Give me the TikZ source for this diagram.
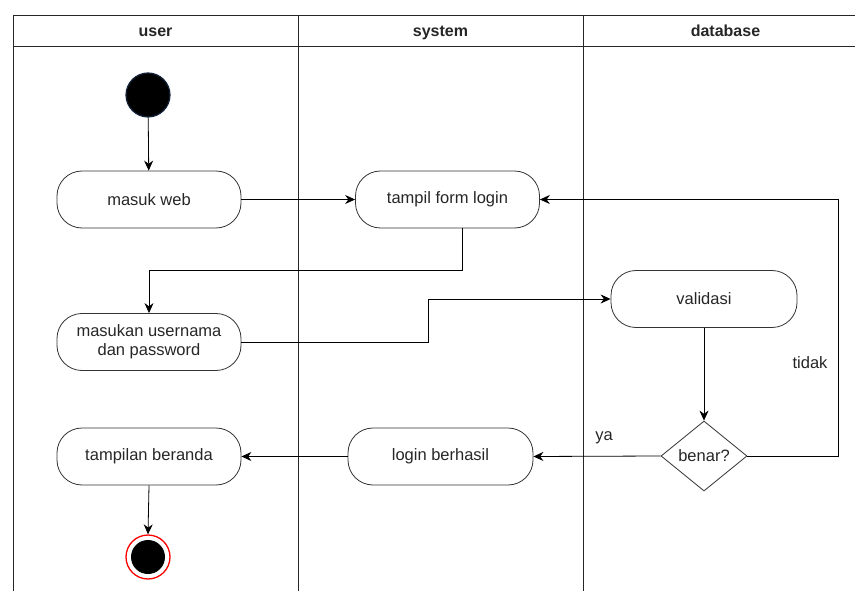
\documentclass[tikz,border=0pt]{standalone}
\usepackage{fontspec}
\setmainfont{Liberation Sans}
\usetikzlibrary{shapes.geometric,arrows.meta}
\begin{document}
\begin{tikzpicture}[x=1pt,y=-1pt,
  every node/.style={font=\fontsize{16.5}{19}\selectfont, text=black!85},
  act/.style={draw=black!80, line width=0.8pt, rounded corners=25pt, minimum width=184pt, minimum height=57pt, align=center, inner sep=0pt},
  dec/.style={draw=black!80, line width=0.8pt, diamond, minimum width=86pt, minimum height=70pt, inner sep=0pt, aspect=1.23},
  flow/.style={draw=black, line width=0.8pt, -{Stealth[length=10pt,width=9pt]}},
  lane/.style={draw=black!85, line width=0.8pt},
  hdr/.style={font=\bfseries\fontsize{16}{19}\selectfont, text height=11.5pt, text depth=3.5pt}
]
\useasboundingbox (0,0) rectangle (855,591);
\begin{scope}
\clip (0,0) rectangle (855,591);
% swimlanes
\draw[lane] (13,591) -- (13,15) -- (868,15) -- (868,591);
\draw[lane] (13,46) -- (868,46);
\draw[lane] (298,15) -- (298,591);
\draw[lane] (583,15) -- (583,591);
\end{scope}
\node[hdr] (h1) at (155.5,33) {user};
\node[hdr] (h2) at (440.5,33) {system};
\node[hdr] (h3) at (725.5,33) {database};

% nodes
\node[circle, fill=black, draw={rgb,255:red,20;green,36;blue,60}, line width=1.2pt, minimum size=44pt, inner sep=0pt] (start) at (148,95) {};
\node[act] (masuk) at (149,199.5) {masuk web};
\node[act] (form) at (447.5,199.5) {tampil form login};
\node[act] (user) at (149,342) {masukan usernama\\dan password};
\node[act, minimum width=186pt] (valid) at (704,299) {validasi};
\node[dec] (benar) at (704,456) {benar?};
\node[act, minimum width=185pt] (login) at (440.5,456.5) {login berhasil};
\node[act] (beranda) at (149,456.5) {tampilan beranda};
\node[circle, draw=red, line width=1.3pt, minimum size=44pt, inner sep=0pt] (end) at (148,557) {};
\node[circle, fill=black, minimum size=34pt, inner sep=0pt] (endin) at (end) {};

\coordinate (c1) at (462,270);
\coordinate (c2) at (428,342);
\coordinate (c3) at (838,456);

% connectors
\draw[flow] (start) -- (masuk);
\draw[flow] (masuk) -- (form);
\draw[flow] (form.south -| c1) -- (c1) -| (user.north);
\draw[flow] (user.east) -- (c2) |- (valid.west);
\draw[flow] (valid) -- (benar.north);
\draw[flow] (benar.east) -- (c3) |- (form.east);
\draw[flow] (benar.west) -- (login.east);
\draw[flow] (login.west) -- (beranda.east);
\draw[flow] (beranda.south) -- (end.north);

\node (tidak) at (810,363) {tidak};
\node (ya) at (604,438) {ya};
\end{tikzpicture}
\end{document}
